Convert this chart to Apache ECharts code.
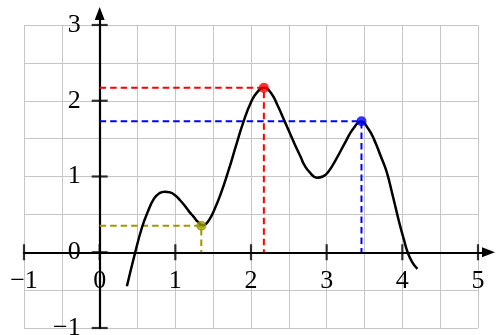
<!DOCTYPE html>
<html>
<head>
<meta charset="utf-8">
<script src="https://cdn.jsdelivr.net/npm/echarts@6/dist/echarts.min.js"></script>
<style>
html, body { margin: 0; padding: 0; background: #fff; }
#main { width: 496px; height: 335px; }
</style>
</head>
<body>
<div id="main"></div>
<script>
// curve
const curveX = [0.36, 0.47, 0.56, 0.63, 0.72, 0.79, 0.86, 0.93, 1.0, 1.06, 1.12, 1.18, 1.24, 1.30, 1.36, 1.40, 1.45, 1.52, 1.6, 1.7, 1.8, 1.9, 2.0, 2.08, 2.17, 2.26, 2.355, 2.44, 2.576, 2.66, 2.70, 2.78, 2.87, 2.95, 3.02, 3.12, 3.24, 3.35, 3.457, 3.55, 3.63, 3.71, 3.79, 3.875, 3.96, 4.02, 4.07, 4.13, 4.2];
const curveY = [-0.45, 0, 0.33, 0.52, 0.71, 0.78, 0.80, 0.79, 0.75, 0.69, 0.62, 0.54, 0.47, 0.40, 0.355, 0.37, 0.43, 0.57, 0.77, 1.07, 1.40, 1.72, 1.98, 2.11, 2.17, 2.11, 1.93, 1.74, 1.43, 1.25, 1.16, 1.05, 0.985, 1.00, 1.06, 1.22, 1.44, 1.63, 1.725, 1.63, 1.48, 1.28, 1.07, 0.74, 0.39, 0.17, 0, -0.13, -0.22];

// marked points
const markX = [1.343, 2.17, 3.46];
const markY = [0.35, 2.17, 1.73];
const markColors = ["#9a9a00", "#ff0000", "#0000ff"];

// tick positions
const xTicks = [-1, 0, 1, 2, 3, 4, 5];
const yTicks = [-1, 0, 1, 2, 3];

// layout (pixels)
const gl = 24, gt = 25, gw = 454, gh = 303;
const ux = gw / 6, uy = gh / 4;
const xTip = 495, yTip = 7, arrowLen = 13;
const g1top = yTip + arrowLen / 2;
const g1w = xTip - arrowLen / 2 - gl;
const g1h = gt + gh - g1top;

const font = "Liberation Serif";
const num = v => (v < 0 ? "\u2212" + Math.abs(v) : String(v));
const intLabel = v => (Number.isInteger(v) ? num(v) : "");

let myChart = echarts.init(document.getElementById("main"));

let series = [];
markX.forEach((x, i) => {
  series.push({
    type: "line",
    data: [[0, markY[i]], [x, markY[i]], [x, 0]],
    symbol: "none",
    lineStyle: { color: markColors[i], width: 2, type: [6.5, 4] },
    z: 2
  });
});
series.push({
  type: "scatter",
  data: xTicks.map(v => [v, 0]),
  symbol: "rect",
  symbolSize: [2.2, 16],
  itemStyle: { color: "#000" },
  clip: false,
  silent: true,
  z: 3
});
series.push({
  type: "scatter",
  data: yTicks.map(v => [0, v]),
  symbol: "rect",
  symbolSize: [16, 2.2],
  itemStyle: { color: "#000" },
  clip: false,
  silent: true,
  z: 3
});
series.push({
  type: "line",
  data: curveX.map((x, i) => [x, curveY[i]]),
  smooth: true,
  showSymbol: false,
  lineStyle: { color: "#000", width: 2.5 },
  z: 4
});
series.push({
  type: "scatter",
  data: markX.map((x, i) => ({ value: [x, markY[i]], itemStyle: { color: markColors[i] } })),
  symbolSize: 10,
  clip: false,
  z: 5
});

let option = {
  animation: false,
  backgroundColor: "#fff",
  grid: [
    { left: gl, top: gt, width: gw, height: gh, outerBoundsMode: "none", containLabel: false },
    { left: gl, top: g1top, width: g1w, height: g1h, outerBoundsMode: "none", containLabel: false }
  ],
  xAxis: [
    {
      type: "value",
      gridIndex: 0,
      min: -1,
      max: 5,
      interval: 0.5,
      position: "bottom",
      offset: -uy, // labels sit under the y = 0 line
      axisLine: { show: false, onZero: false },
      axisTick: { show: false },
      axisLabel: {
        margin: 16,
        showMinLabel: true,
        showMaxLabel: true,
        fontFamily: font,
        fontSize: 26,
        color: "#000",
        formatter: intLabel
      },
      splitLine: { show: true, lineStyle: { color: "#c6c6c6", width: 1 } }
    },
    {
      type: "value",
      gridIndex: 1,
      min: -1,
      max: -1 + g1w / ux,
      axisLine: {
        show: true,
        onZero: true,
        symbol: ["none", "triangle"],
        symbolSize: [10, arrowLen],
        lineStyle: { color: "#000", width: 2.2 }
      },
      axisTick: { show: false },
      axisLabel: { show: false },
      splitLine: { show: false }
    }
  ],
  yAxis: [
    {
      type: "value",
      gridIndex: 0,
      min: -1,
      max: 3,
      interval: 0.5,
      position: "left",
      offset: -ux, // labels sit left of the x = 0 line
      axisLine: { show: false, onZero: false },
      axisTick: { show: false },
      axisLabel: {
        margin: 19,
        showMinLabel: true,
        showMaxLabel: true,
        fontFamily: font,
        fontSize: 26,
        color: "#000",
        formatter: intLabel
      },
      splitLine: { show: true, lineStyle: { color: "#c6c6c6", width: 1 } }
    },
    {
      type: "value",
      gridIndex: 1,
      min: -1,
      max: -1 + g1h / uy,
      axisLine: {
        show: true,
        onZero: true,
        symbol: ["none", "triangle"],
        symbolSize: [10, arrowLen],
        lineStyle: { color: "#000", width: 2.2 }
      },
      axisTick: { show: false },
      axisLabel: { show: false },
      splitLine: { show: false }
    }
  ],
  series: series
};
myChart.setOption(option);
</script>
</body>
</html>
